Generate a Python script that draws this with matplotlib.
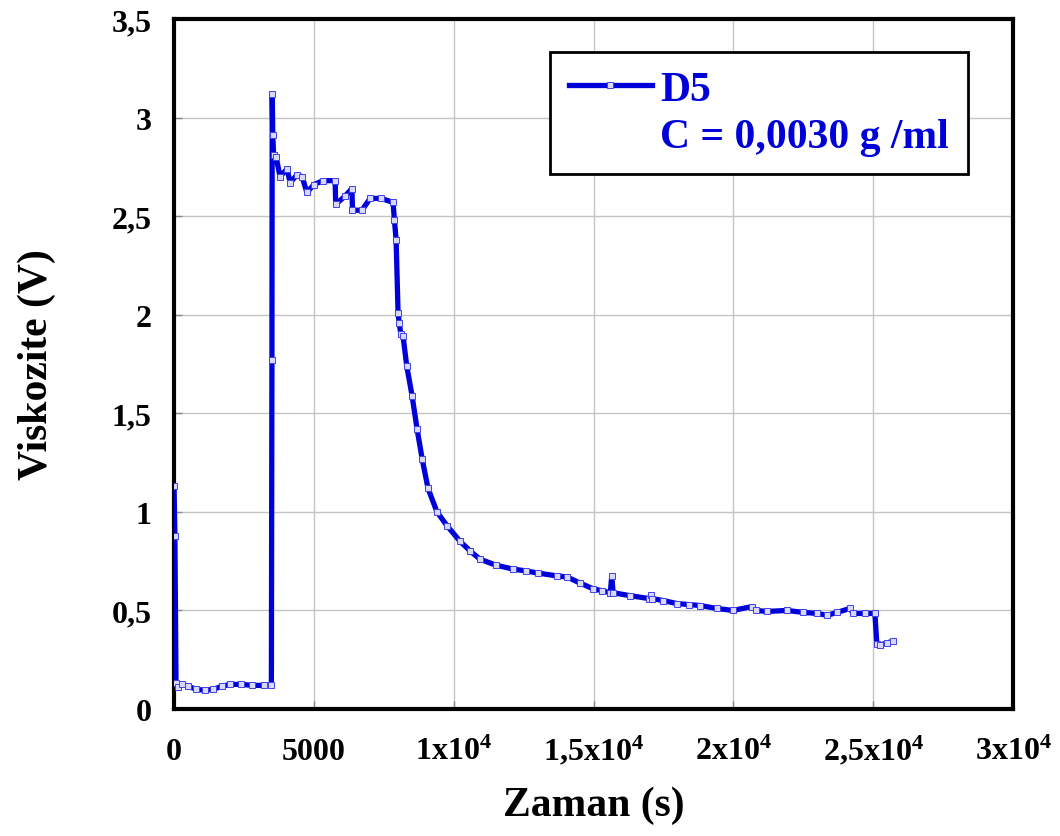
#!/usr/bin/env python3
"""
Viskozite vs zaman for D5 (C = 0,0030 g/ml), single line with square markers.
"""

import matplotlib

matplotlib.use("Agg")
import matplotlib.pyplot as plt
from matplotlib.lines import Line2D

FONT = "Liberation Serif"
BLUE = "#0000d8"

# values
time_s = [
    0, 30, 70, 150, 300, 500, 800, 1100, 1400, 1700, 2000, 2400, 2800, 3200,
    3480, 3500, 3510, 3530, 3560, 3650, 3790, 4040, 4150, 4400, 4580, 4750,
    5000, 5330, 5760, 5780, 6100, 6360, 6380, 6720, 7010, 7400, 7830, 7880,
    7940, 8010, 8050, 8110, 8190, 8320, 8510, 8690, 8870, 9080, 9400, 9760,
    10230, 10600, 10940, 11500, 12120, 12600, 13000, 13700, 14050, 14500,
    14980, 15300, 15600, 15650, 15700, 16300, 17000, 17050, 17100, 17500,
    17980, 18400, 18810, 19400, 19990, 20670, 20800, 21200, 21920, 22500,
    23000, 23350, 23700, 24170, 24280, 24700, 25060, 25130, 25240, 25500,
    25710,
]
visc_v = [
    1.13, 0.88, 0.13, 0.11, 0.125, 0.115, 0.10, 0.095, 0.10, 0.115, 0.125,
    0.125, 0.12, 0.12, 0.12, 1.77, 3.12, 2.91, 2.81, 2.80, 2.70, 2.74, 2.67,
    2.71, 2.70, 2.62, 2.66, 2.68, 2.68, 2.56, 2.60, 2.64, 2.53, 2.53, 2.59,
    2.59, 2.57, 2.48, 2.38, 2.01, 1.96, 1.90, 1.89, 1.74, 1.59, 1.42, 1.27,
    1.12, 1.00, 0.93, 0.85, 0.80, 0.76, 0.73, 0.71, 0.70, 0.69, 0.675, 0.67,
    0.64, 0.61, 0.60, 0.59, 0.675, 0.59, 0.575, 0.56, 0.58, 0.56, 0.55,
    0.535, 0.53, 0.525, 0.51, 0.50, 0.52, 0.50, 0.495, 0.50, 0.49, 0.485,
    0.475, 0.49, 0.51, 0.485, 0.485, 0.485, 0.33, 0.325, 0.335, 0.345,
]

x_ticks = [0, 5000, 10000, 15000, 20000, 25000, 30000]
x_tick_labels = ["0", "5000", "1x10$^4$", "1,5x10$^4$", "2x10$^4$",
                 "2,5x10$^4$", "3x10$^4$"]
y_ticks = [0, 0.5, 1, 1.5, 2, 2.5, 3, 3.5]
y_tick_labels = ["0", "0,5", "1", "1,5", "2", "2,5", "3", "3,5"]

plt.rcParams["font.family"] = [FONT, "DejaVu Serif"]
plt.rcParams["font.weight"] = "bold"
plt.rcParams["mathtext.default"] = "regular"

line_style = dict(
    color=BLUE,
    linewidth=3.8,
    marker="s",
    markersize=4.2,
    markerfacecolor="#d8d8ff",
    markeredgecolor="#4040e8",
    markeredgewidth=0.7,
)

fig = plt.figure(figsize=(10.6, 8.37), dpi=100)
ax = fig.add_axes([0.1642, 0.1517, 0.7915, 0.8244])

ax.plot(time_s, visc_v, zorder=3, **line_style)

ax.set_xlim(0, 30000)
ax.set_ylim(0, 3.5)
ax.set_xticks(x_ticks)
ax.set_xticklabels(x_tick_labels, va="baseline")
ax.set_yticks(y_ticks)
ax.set_yticklabels(y_tick_labels)
ax.tick_params(axis="both", direction="in", length=6, width=1, color="#888888",
               labelsize=23)
ax.tick_params(axis="y", pad=16)
ax.tick_params(axis="x", pad=36)
ax.grid(True, color="#c4c4c4", linewidth=1)
ax.set_axisbelow(True)
for sp in ax.spines.values():
    sp.set_linewidth(3)
    sp.set_color("black")

ax.set_xlabel("Zaman (s)", fontsize=30, fontweight="bold", labelpad=14)
ax.set_ylabel("Viskozite (V)", fontsize=30, fontweight="bold", labelpad=40)

handles = [
    Line2D([0], [0], **line_style),
    Line2D([0], [0], color="none"),
]
leg = ax.legend(
    handles=handles,
    labels=["D5", "C = 0,0030 g /ml"],
    loc="upper right",
    bbox_to_anchor=(0.946, 0.952),
    prop={"family": FONT, "weight": "bold", "size": 30},
    labelcolor=BLUE,
    frameon=True,
    fancybox=False,
    framealpha=1,
    edgecolor="black",
    numpoints=1,
    handlelength=2.0,
    handletextpad=0.2,
    labelspacing=0.2,
    borderpad=0.45,
    borderaxespad=0,
)
leg.get_frame().set_linewidth(2)

fig.savefig("out.png", dpi=100)
plt.close(fig)
